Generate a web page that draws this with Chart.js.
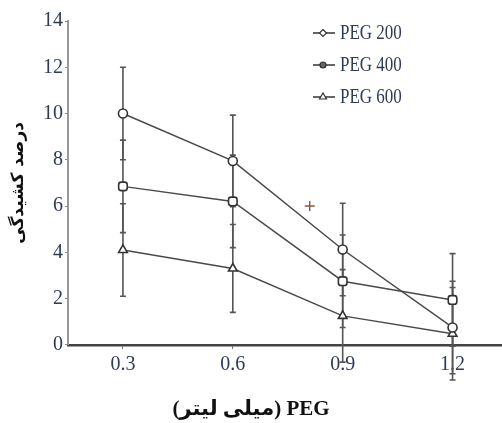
<!DOCTYPE html>
<html>
<head>
<meta charset="utf-8">
<script src="https://cdn.jsdelivr.net/npm/chart.js@4.4.1/dist/chart.umd.min.js"></script>
<style>
    body { margin: 0; background: #ffffff; }
    #wrap { width: 502px; height: 423px; }
</style>
</head>
<body>
<div id="wrap"><canvas id="pegChart"></canvas></div>
<script>
// Values.
const xValues = [0.3, 0.6, 0.9, 1.2];
const xTickValues = [0.3, 0.6, 0.9, 1.2];
const seriesLabels = ['PEG 200', 'PEG 400', 'PEG 600'];
const peg200 = [10.0, 7.95, 4.12, 0.75];
const peg200Err = [2.0, 1.98, 2.0, 2.0];
const peg400 = [6.85, 6.2, 2.75, 1.94];
const peg400Err = [2.0, 2.0, 2.0, 2.0];
const peg600 = [4.1, 3.3, 1.25, 0.48];
const peg600Err = [2.0, 1.9, 2.0, 2.0];
// Stray "+" mark that sits in the plot.
const strayX = [0.81];
const strayY = [6.0];

const lineColor = '#4a4a4a';
const textColor = '#2f3a58';

function toPoints(values) {
    return values.map((v, i) => ({ x: xValues[i], y: v }));
}

// Vertical error bars with small caps, drawn under the markers.
const errorBarPlugin = {
    id: 'errorBars',
    beforeDatasetsDraw(chart) {
        const ctx = chart.ctx;
        const xs = chart.scales.x;
        const ys = chart.scales.y;
        ctx.save();
        ctx.strokeStyle = '#555555';
        ctx.lineWidth = 1.6;
        chart.data.datasets.forEach(ds => {
            if (!ds.errors) return;
            ds.data.forEach((p, i) => {
                const x = xs.getPixelForValue(p.x);
                const top = ys.getPixelForValue(p.y + ds.errors[i]);
                const bot = ys.getPixelForValue(p.y - ds.errors[i]);
                ctx.beginPath();
                ctx.moveTo(x, top);
                ctx.lineTo(x, bot);
                ctx.moveTo(x - 3, top);
                ctx.lineTo(x + 3, top);
                ctx.moveTo(x - 3, bot);
                ctx.lineTo(x + 3, bot);
                ctx.stroke();
            });
        });
        ctx.restore();
    }
};

// Legend drawn inside the plot, top right.
const legendMarkers = ['diamond', 'circle', 'triangle'];
const innerLegendPlugin = {
    id: 'innerLegend',
    afterDraw(chart) {
        const ctx = chart.ctx;
        const area = chart.chartArea;
        ctx.save();
        for (let i = 0; i < seriesLabels.length; i++) {
            const x = area.right - 189;
            const y = area.top + 12 + i * 32;
            ctx.strokeStyle = '#333333';
            ctx.lineWidth = 1.5;
            ctx.beginPath();
            ctx.moveTo(x, y);
            ctx.lineTo(x + 22, y);
            ctx.stroke();

            const mx = x + 10;
            ctx.fillStyle = legendMarkers[i] === 'circle' ? '#666666' : '#ffffff';
            ctx.lineWidth = 1.2;
            ctx.beginPath();
            if (legendMarkers[i] === 'diamond') {
                ctx.moveTo(mx, y - 3.5);
                ctx.lineTo(mx + 3.5, y);
                ctx.lineTo(mx, y + 3.5);
                ctx.lineTo(mx - 3.5, y);
                ctx.closePath();
            } else if (legendMarkers[i] === 'circle') {
                ctx.arc(mx, y, 3, 0, Math.PI * 2);
            } else {
                ctx.moveTo(mx, y - 4);
                ctx.lineTo(mx + 3.5, y + 2);
                ctx.lineTo(mx - 3.5, y + 2);
                ctx.closePath();
            }
            ctx.fill();
            ctx.stroke();

            ctx.save();
            ctx.translate(x + 27, y);
            ctx.scale(0.85, 1);
            ctx.font = '20px "Liberation Serif"';
            ctx.fillStyle = textColor;
            ctx.textBaseline = 'middle';
            ctx.fillText(seriesLabels[i], 0, 1);
            ctx.restore();
        }
        ctx.restore();
    }
};

const ctx = document.getElementById('pegChart').getContext('2d');
const pegChart = new Chart(ctx, {
    type: 'line',
    data: {
        datasets: [
            {
                label: seriesLabels[0],
                data: toPoints(peg200),
                errors: peg200Err,
                borderColor: lineColor,
                borderWidth: 1.5,
                pointStyle: 'circle',
                pointRadius: 4.5,
                pointBackgroundColor: '#ffffff',
                pointBorderColor: '#333333',
                pointBorderWidth: 1.6
            },
            {
                label: seriesLabels[1],
                data: toPoints(peg400),
                errors: peg400Err,
                borderColor: lineColor,
                borderWidth: 1.5,
                pointStyle: 'rectRounded',
                pointRadius: 5,
                pointBackgroundColor: '#ffffff',
                pointBorderColor: '#333333',
                pointBorderWidth: 1.6
            },
            {
                label: seriesLabels[2],
                data: toPoints(peg600),
                errors: peg600Err,
                borderColor: lineColor,
                borderWidth: 1.5,
                pointStyle: 'triangle',
                pointRadius: 5,
                pointBackgroundColor: '#ffffff',
                pointBorderColor: '#333333',
                pointBorderWidth: 1.6
            },
            {
                label: 'stray',
                data: strayX.map((v, i) => ({ x: v, y: strayY[i] })),
                showLine: false,
                pointStyle: 'cross',
                pointRadius: 5,
                pointBorderColor: '#8a5a3c',
                pointBorderWidth: 1.5
            }
        ]
    },
    options: {
        responsive: true,
        maintainAspectRatio: false,
        animation: false,
        layout: { autoPadding: false, padding: { top: 21, right: 0, left: 0, bottom: 0 } },
        scales: {
            x: {
                type: 'linear',
                min: 0.15,
                max: 1.335,
                afterBuildTicks: scale => {
                    scale.ticks = xTickValues.map(v => ({ value: v }));
                },
                afterFit: scale => {
                    scale.height = 40;
                    scale.paddingLeft = 0;
                    scale.paddingRight = 0;
                },
                border: { color: '#444444', width: 2.5 },
                grid: { drawOnChartArea: false, tickLength: 4, color: '#666666' },
                ticks: {
                    color: textColor,
                    padding: 4,
                    font: { family: '"Liberation Serif"', size: 20 },
                    callback: v => v.toFixed(1)
                }
            },
            y: {
                min: 0,
                max: 14,
                afterFit: scale => { scale.width = 68; },
                border: { color: '#999999', width: 2 },
                grid: { drawOnChartArea: false, tickLength: 3, color: '#888888' },
                ticks: {
                    stepSize: 2,
                    color: textColor,
                    padding: 2,
                    font: { family: '"Liberation Serif"', size: 20 }
                },
                title: {
                    display: true,
                    text: 'درصد کشیدگی',
                    color: '#111111',
                    padding: { top: 8, bottom: 0 },
                    font: { family: '"DejaVu Sans"', size: 17, weight: 'bold' }
                }
            }
        },
        plugins: {
            legend: { display: false },
            tooltip: { enabled: false },
            title: {
                display: true,
                position: 'bottom',
                text: '(میلی لیتر) PEG',
                color: '#111111',
                padding: { top: 12, bottom: 1 },
                font: { family: '"Liberation Serif", "DejaVu Sans"', size: 21, weight: 'bold' }
            }
        }
    },
    plugins: [errorBarPlugin, innerLegendPlugin]
});
</script>
</body>
</html>
